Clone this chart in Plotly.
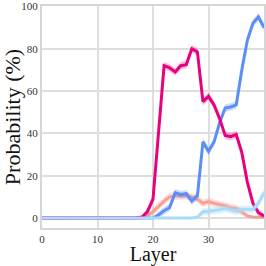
import plotly.graph_objects as go

layers = list(range(41))

magenta = [0]*17 + [0.2, 0.5, 3, 9, 40, 72, 71, 69, 72, 72.5, 80, 78.5, 55, 57.5, 53.5, 47, 39, 38.5, 39.5, 31, 17, 7, 2.5, 1]
blue = [0]*21 + [1.5, 3.5, 5, 12, 11, 11.5, 8, 10.5, 36, 31.5, 36, 45, 52, 52.5, 53.5, 70, 84, 92, 95, 90]
salmon = [0]*19 + [1, 3, 5.5, 8, 10, 10.5, 10.5, 10.5, 10, 9, 7, 7.8, 7, 6.5, 5.8, 5, 4.5, 3, 1, 0.5, 0.3, 0.3]
lightblue = [0]*28 + [0.5, 3, 3.2, 3.5, 4, 4.5, 3.8, 3.2, 4.2, 4, 4, 7, 12]

band = 1.8

series = [
    ("salmon", salmon, "#f8a095", "rgba(248,160,149,0.35)"),
    ("blue", blue, "#5b8ef6", "rgba(91,142,246,0.3)"),
    ("magenta", magenta, "#e8007f", "rgba(232,0,127,0.25)"),
    ("lightblue", lightblue, "#a9dcf9", "rgba(169,220,249,0.4)"),
]

fig = go.Figure()
for name, vals, col, fcol in series:
    upper = [v + min(band, v) for v in vals]
    lower = [v - min(band, v) for v in vals]
    fig.add_trace(go.Scatter(x=layers + layers[::-1], y=upper + lower[::-1], fill="toself",
                             fillcolor=fcol, line=dict(width=0), hoverinfo="skip", showlegend=False))
    fig.add_trace(go.Scatter(x=layers, y=vals, mode="lines", line=dict(color=col, width=3),
                             name=name, showlegend=False))

axis_common = dict(showgrid=True, gridcolor="#dedede", gridwidth=1.5, showline=True,
                   linecolor="#d6d6d6", linewidth=2, mirror=True, zeroline=False,
                   ticks="", tickfont=dict(family="Liberation Serif", size=11, color="#333"))

fig.update_layout(
    width=266, height=266,
    margin=dict(l=42, r=0, t=6, b=36),
    plot_bgcolor="white", paper_bgcolor="white",
    xaxis=dict(range=[0, 40], tickvals=[0, 10, 20, 30, 40],
               title=dict(text="Layer", font=dict(family="Liberation Serif", size=20, color="#111"), standoff=7),
               **axis_common),
    yaxis=dict(range=[-4.7, 100.2], tickvals=[0, 20, 40, 60, 80, 100],
               title=dict(text="Probability (%)", font=dict(family="Liberation Serif", size=22, color="#111"), standoff=4),
               **axis_common),
)

fig.write_html("out.html", config={"displayModeBar": False},
               post_script="document.body.style.margin='0';document.body.style.overflow='hidden';")
